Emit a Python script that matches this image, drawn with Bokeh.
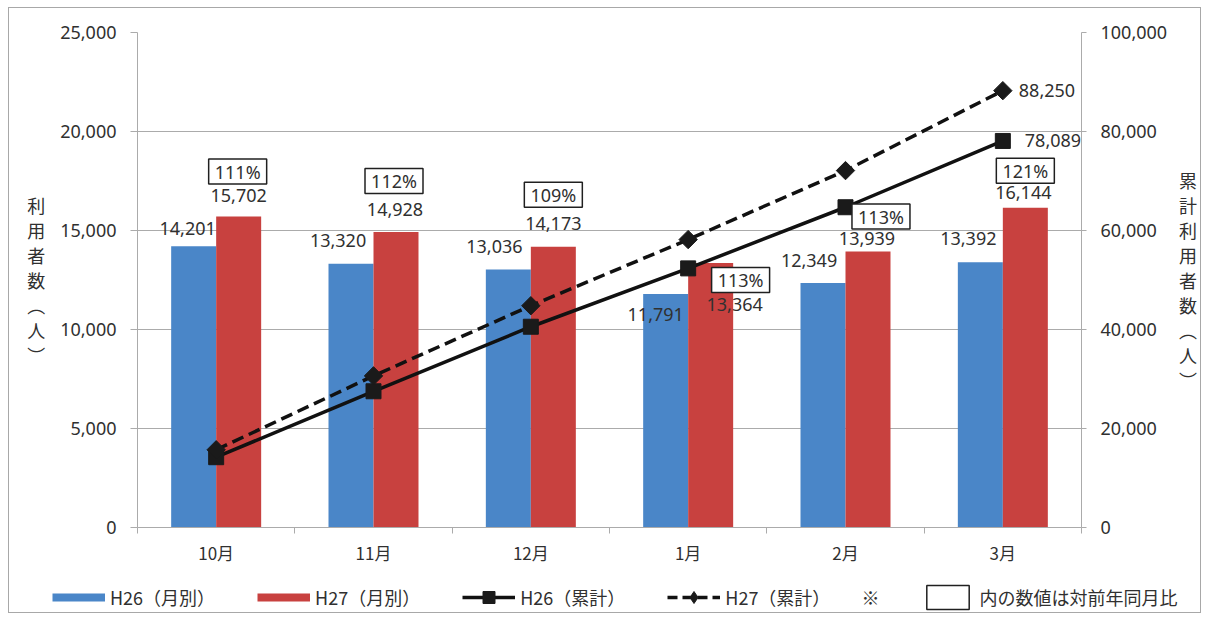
import numpy as np
from bokeh.plotting import figure
from bokeh.layouts import column
from bokeh.models import (Range1d, LinearAxis, FixedTicker, ColumnDataSource,
                          Legend, LegendItem, NumeralTickFormatter)
from bokeh.core.properties import value
from bokeh.embed import file_html
from bokeh.resources import INLINE

# ---------------- data ----------------
months = ["10月", "11月", "12月", "1月", "2月", "3月"]
h26_monthly = [14201, 13320, 13036, 11791, 12349, 13392]
h27_monthly = [15702, 14928, 14173, 13364, 13939, 16144]
h26_cum = [14201, 27521, 40557, 52348, 64697, 78089]
h27_cum = [15702, 30630, 44803, 58167, 72106, 88250]
yoy = ["111%", "112%", "109%", "113%", "113%", "121%"]
left_ticks = [0, 5000, 10000, 15000, 20000, 25000]
right_ticks = [0, 20000, 40000, 60000, 80000, 100000]

# ---------------- style / layout ----------------
W, H = 1191, 564
FOOT_H = 40
BL, BR, BT, BB = 128, 117, 24, 45
FW = W - BL - BR
FH = H - BT - BB
XPX = FW / 6.0
YPX = FH / 25000.0
BLUE = "#4a86c8"
RED = "#c8413f"
GRID = "#ababab"
TXT = "#303030"
NUMFONT = "Noto Sans"
JPFONT = "Noto Sans CJK JP"
BW = 0.286
NAN = float("nan")

# hand-placed label offsets (pixels, dx right / dy up, relative to bar top centre)
h26_lab_off = [(-6, 18), (-13, 23), (-14, 23), (-10, -20), (-14, 22), (-12, 24)]
h27_lab_off = [(0, 21), (-1, 22), (0, 23), (24, -42), (-1, 13), (-2, 15)]
yoy_off = [(-1, 45), (-2, 51), (0, 52), (30, -17), (13, 35), (0, 37)]

centers = [i + 0.5 for i in range(len(months))]
x26 = [c - BW / 2 for c in centers]
x27 = [c + BW / 2 for c in centers]

p = figure(width=W, height=H, output_backend="svg", toolbar_location=None,
           x_range=Range1d(0, 6), y_range=Range1d(0, 25000),
           min_border_left=BL, min_border_right=BR, min_border_top=BT, min_border_bottom=BB,
           outline_line_color=None, background_fill_color="white", border_fill_color="white")
p.frame_align = False
p.extra_y_ranges = {"cum": Range1d(0, 100000)}

# grid
p.xgrid.visible = False
p.ygrid.ticker = FixedTicker(ticks=left_ticks)
p.ygrid.grid_line_color = GRID
p.ygrid.grid_line_width = 1

def style_y(ax, tick_out):
    ax.axis_line_color = GRID
    ax.major_tick_line_color = GRID
    ax.major_tick_out = tick_out
    ax.major_tick_in = 0
    ax.minor_tick_line_color = None
    ax.major_label_standoff = 14
    ax.major_label_text_font = NUMFONT
    ax.major_label_text_font_size = "18px"
    ax.major_label_text_color = TXT
    ax.axis_label_orientation = "horizontal"
    ax.axis_label_text_font = JPFONT
    ax.axis_label_text_font_size = "18px"
    ax.axis_label_text_font_style = "normal"
    ax.axis_label_text_color = TXT
    ax.axis_label_text_line_height = 0.96

# left axis
ya = p.yaxis[0]
ya.ticker = FixedTicker(ticks=left_ticks)
ya.formatter = NumeralTickFormatter(format="0,0")
style_y(ya, 7)
ya.axis_label = "利\n用\n者\n数\n︵\n人\n︶"
ya.axis_label_standoff = 12

# right axis
ra = LinearAxis(y_range_name="cum", ticker=FixedTicker(ticks=right_ticks),
                formatter=NumeralTickFormatter(format="0,0"))
style_y(ra, 5)
ra.axis_label = "累\n計\n利\n用\n者\n数\n︵\n人\n︶"
ra.axis_label_standoff = 9
p.add_layout(ra, "right")

# bottom axis: tick marks at category boundaries
xa = p.xaxis[0]
xa.ticker = FixedTicker(ticks=list(range(len(months) + 1)))
xa.major_label_overrides = {i: "" for i in range(len(months) + 1)}
xa.major_label_text_font_size = "1px"
xa.major_label_standoff = 0
xa.axis_line_color = GRID
xa.major_tick_line_color = GRID
xa.major_tick_out = 6
xa.major_tick_in = 0
xa.minor_tick_line_color = None

# bottom axis: month names at centres
ma = LinearAxis(ticker=FixedTicker(ticks=centers),
                major_label_overrides={c: m for c, m in zip(centers, months)})
ma.axis_line_color = None
ma.major_tick_line_color = None
ma.minor_tick_line_color = None
ma.major_label_standoff = 0
ma.major_label_text_font = JPFONT
ma.major_label_text_font_size = "17px"
ma.major_label_text_color = TXT
p.add_layout(ma, "below")

# bars
p.vbar(x=x26, top=h26_monthly, width=BW, bottom=0, fill_color=BLUE, line_color=None)
p.vbar(x=x27, top=h27_monthly, width=BW, bottom=0, fill_color=RED, line_color=None)

# cumulative lines
LINE = dict(line_color="#111111", line_width=3.5)
MARK = dict(fill_color="#1a1a1a", line_color="#1a1a1a")
p.line(centers, h26_cum, y_range_name="cum", **LINE)
p.scatter(centers, h26_cum, y_range_name="cum", marker="square", size=15, **MARK)
p.line(centers, h27_cum, y_range_name="cum", line_dash="12 6", **LINE)
p.scatter(centers, h27_cum, y_range_name="cum", marker="square", angle=np.pi / 4,
          size=13, **MARK)

def fmt(v):
    return f"{v:,}"

# bar value labels
src26 = ColumnDataSource(dict(
    x=[x + dx / XPX for x, (dx, dy) in zip(x26, h26_lab_off)],
    y=[v + dy / YPX for v, (dx, dy) in zip(h26_monthly, h26_lab_off)],
    t=[fmt(v) for v in h26_monthly]))
src27 = ColumnDataSource(dict(
    x=[x + dx / XPX for x, (dx, dy) in zip(x27, h27_lab_off)],
    y=[v + dy / YPX for v, (dx, dy) in zip(h27_monthly, h27_lab_off)],
    t=[fmt(v) for v in h27_monthly]))
for s in (src26, src27):
    p.text(x="x", y="y", text="t", source=s, text_align="center", text_baseline="middle",
           text_font=value(NUMFONT), text_font_size="18px", text_color=TXT)

# yoy boxes
srcy = ColumnDataSource(dict(
    x=[x + dx / XPX for x, (dx, dy) in zip(x27, yoy_off)],
    y=[v + dy / YPX for v, (dx, dy) in zip(h27_monthly, yoy_off)],
    t=yoy))
p.rect(x="x", y="y", width=58, height=25, width_units="screen", height_units="screen",
       source=srcy, fill_color="white", line_color="#202020", line_width=1.5)
p.text(x="x", y="y", text="t", source=srcy, text_align="center", text_baseline="middle",
       text_font=value(NUMFONT), text_font_size="18px", text_color=TXT)

# cumulative end labels
srce = ColumnDataSource(dict(
    x=[centers[-1] + 16 / XPX, centers[-1] + 22 / XPX],
    y=[h27_cum[-1], h26_cum[-1]],
    t=[fmt(h27_cum[-1]), fmt(h26_cum[-1])]))
p.text(x="x", y="y", text="t", source=srce, y_range_name="cum", text_align="left",
       text_baseline="middle", text_font=value(NUMFONT), text_font_size="18px",
       text_color=TXT)

# ---------------- footer with legend ----------------
f = figure(width=W, height=FOOT_H, output_backend="svg", toolbar_location=None,
           x_range=Range1d(0, 1), y_range=Range1d(0, 1), min_border=0,
           x_axis_location=None, y_axis_location=None, outline_line_color=None,
           background_fill_color="white", border_fill_color="white")
f.frame_align = False
f.xgrid.visible = False
f.ygrid.visible = False

# legend-only renderers (NaN data: nothing drawn in the footer itself)
sw26 = f.line(x=[NAN], y=[NAN], line_color=BLUE, line_width=8)
sw27 = f.line(x=[NAN], y=[NAN], line_color=RED, line_width=8)
lg26 = f.line(x=[NAN], y=[NAN], **LINE)
mk26 = f.scatter(x=[NAN], y=[NAN], marker="square", **MARK)
lg27 = f.line(x=[NAN], y=[NAN], line_dash="10 5", **LINE)
mk27 = f.scatter(x=[NAN], y=[NAN], marker="diamond", **MARK)
swbox = f.quad(left=[NAN], right=[NAN], top=[NAN], bottom=[NAN], fill_color="white",
               line_color="#202020", line_width=1.5)

legend = Legend(items=[
    LegendItem(label="H26（月別）", renderers=[sw26]),
    LegendItem(label="H27（月別）", renderers=[sw27]),
    LegendItem(label="H26（累計）", renderers=[lg26, mk26]),
    LegendItem(label="H27（累計）\u3000\u3000 ※", renderers=[lg27, mk27]),
    LegendItem(label="内の数値は対前年同月比", renderers=[swbox]),
], orientation="horizontal", location=(52 - 9, 0),
    glyph_width=53, glyph_height=30, label_standoff=5, label_height=30,
    spacing=42, padding=0, margin=0, border_line_color=None,
    background_fill_alpha=0, label_text_font=JPFONT, label_text_font_size="18px",
    label_text_color=TXT, label_text_baseline="middle")
f.add_layout(legend, "center")

layout = column(p, f, spacing=0,
                styles={"border": "1px solid #a8a8a8", "margin-left": "8px",
                        "margin-top": "7px"})

open("out.html", "w").write(file_html(layout, INLINE))
